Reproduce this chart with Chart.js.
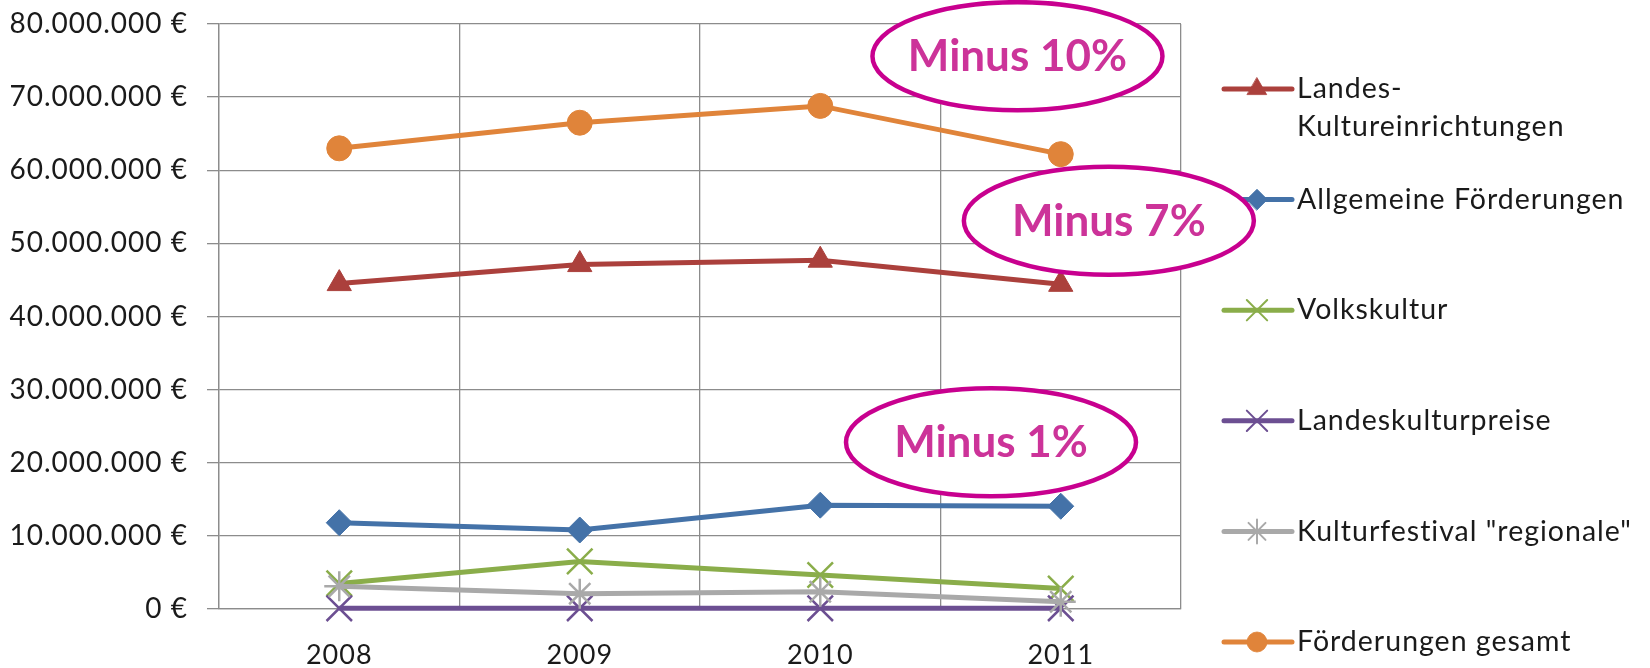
<!DOCTYPE html>
<html>
<head>
<meta charset="utf-8">
<script src="https://cdn.jsdelivr.net/npm/chart.js@4/dist/chart.umd.min.js"></script>
<style>
  body { margin: 0; background: #fff; }
  #wrap { width: 1650px; height: 668px; }
</style>
</head>
<body>
<div id="wrap"><canvas id="chart" width="1650" height="668"></canvas></div>
<script>
// values (euro)
const years = ["2008", "2009", "2010", "2011"];
const landesKultur = [44500000, 47100000, 47700000, 44400000];
const allgemein = [11800000, 10800000, 14200000, 14050000];
const volkskultur = [3500000, 6500000, 4650000, 2800000];
const kulturpreise = [100000, 100000, 100000, 100000];
const regionale = [3100000, 2100000, 2350000, 1000000];
const gesamt = [63000000, 66500000, 68800000, 62200000];

const seriesNames = [
  ["Landes-", "Kultureinrichtungen"],
  "Allgemeine Förderungen",
  "Volkskultur",
  "Landeskulturpreise",
  'Kulturfestival "regionale"',
  "Förderungen gesamt"
];
const yTicks = [0, 10000000, 20000000, 30000000, 40000000, 50000000, 60000000, 70000000, 80000000];

// callouts: label, x as category index, y as value
const calloutText = ["Minus 10%", "Minus 7%", "Minus 1%"];
const calloutX = [2.82, 3.2, 2.71];
const calloutY = [75600000, 53100000, 22800000];

const font = "Lato, 'Open Sans', sans-serif";

function euro(v) {
  return String(v).replace(/\B(?=(\d{3})+(?!\d))/g, ".") + " €";
}

function makeSet(label, data, color, style, radius, bw) {
  return {
    label: label,
    data: data,
    borderColor: color,
    backgroundColor: color,
    borderWidth: 5,
    pointStyle: style,
    pointRadius: radius,
    pointHoverRadius: radius,
    pointBorderWidth: bw,
    pointBorderColor: color,
    pointBackgroundColor: color,
    clip: false,
    tension: 0
  };
}

const sets = [
  makeSet(seriesNames[0], landesKultur, "#ab403c", "triangle", 14, 1),
  makeSet(seriesNames[1], allgemein, "#4472a8", "rectRot", 13, 1),
  makeSet(seriesNames[2], volkskultur, "#8aad4a", "crossRot", 18, 2.5),
  makeSet(seriesNames[3], kulturpreise, "#6c4f92", "crossRot", 18, 2.5),
  makeSet(seriesNames[4], regionale, "#a9a9a9", "star", 15, 2.5),
  makeSet(seriesNames[5], gesamt, "#e0843a", "circle", 12.5, 1)
];
// later series on top, like the original
sets.forEach((s, i) => { s.order = sets.length - i; });

const spacing = {
  id: "spacing",
  beforeDraw(chart) { chart.ctx.letterSpacing = "1px"; }
};

const sideLegend = {
  id: "sideLegend",
  afterDraw(chart) {
    const ctx = chart.ctx;
    const x0 = chart.chartArea.right + 43;
    const drawPoint = Chart.helpers && Chart.helpers.drawPoint;
    chart.data.datasets.forEach((ds, i) => {
      const y = 89 + i * 110.6;
      ctx.save();
      ctx.strokeStyle = ds.borderColor;
      ctx.fillStyle = ds.borderColor;
      ctx.lineWidth = 5;
      ctx.lineCap = "round";
      ctx.beginPath();
      ctx.moveTo(x0, y);
      ctx.lineTo(x0 + 68, y);
      ctx.stroke();
      if (drawPoint) {
        ctx.lineWidth = ds.pointBorderWidth * 0.8;
        drawPoint(ctx, { pointStyle: ds.pointStyle, radius: ds.pointRadius * 0.8, borderWidth: ds.pointBorderWidth, rotation: 0 }, x0 + 33, y);
      }
      ctx.fillStyle = "#1a1a1a";
      ctx.font = "28.5px " + font;
      ctx.letterSpacing = "1px";
      ctx.textBaseline = "middle";
      ctx.textAlign = "left";
      const lines = Array.isArray(ds.label) ? ds.label : [ds.label];
      lines.forEach((t, k) => ctx.fillText(t, x0 + 73, y + k * 38));
      ctx.restore();
    });
  }
};

const callouts = {
  id: "callouts",
  afterDraw(chart) {
    const ctx = chart.ctx;
    const xs = chart.scales.x, ys = chart.scales.y;
    calloutText.forEach((t, i) => {
      const cx = xs.getPixelForValue(calloutX[i]);
      const cy = ys.getPixelForValue(calloutY[i]);
      ctx.save();
      ctx.beginPath();
      ctx.ellipse(cx, cy, 145, 54, 0, 0, Math.PI * 2);
      ctx.fillStyle = "#fff";
      ctx.fill();
      ctx.lineWidth = 4.5;
      ctx.strokeStyle = "#c8008f";
      ctx.stroke();
      ctx.fillStyle = "#cc3399";
      ctx.font = "bold 44px " + font;
      ctx.letterSpacing = "0px";
      ctx.textAlign = "center";
      ctx.textBaseline = "middle";
      ctx.fillText(t, cx, cy + 1);
      ctx.restore();
    });
  }
};

new Chart(document.getElementById("chart"), {
  type: "line",
  data: { labels: years, datasets: sets },
  options: {
    responsive: false,
    animation: false,
    layout: { padding: { top: 24, right: 469, bottom: 0, left: 0 } },
    plugins: { legend: { display: false }, tooltip: { enabled: false } },
    scales: {
      x: {
        offset: true,
        grid: { offset: true, color: "#8c8c8c", lineWidth: 1.3, drawTicks: false },
        border: { color: "#8c8c8c", width: 1.3 },
        ticks: { color: "#1a1a1a", font: { family: font, size: 27 }, padding: 30 },
        afterFit(scale) { scale.height = 59; }
      },
      y: {
        min: 0,
        max: 80000000,
        afterBuildTicks(scale) { scale.ticks = yTicks.map(v => ({ value: v })); },
        grid: { color: "#8c8c8c", lineWidth: 1.3, tickLength: 12 },
        border: { color: "#8c8c8c", width: 1.3 },
        ticks: { color: "#1a1a1a", font: { family: font, size: 28 }, padding: 19, callback: v => euro(v) },
        afterFit(scale) {
          scale.width = 219;
          scale.paddingTop = 0;
          scale.paddingBottom = 0;
        }
      }
    }
  },
  plugins: [spacing, sideLegend, callouts]
});
</script>
</body>
</html>
